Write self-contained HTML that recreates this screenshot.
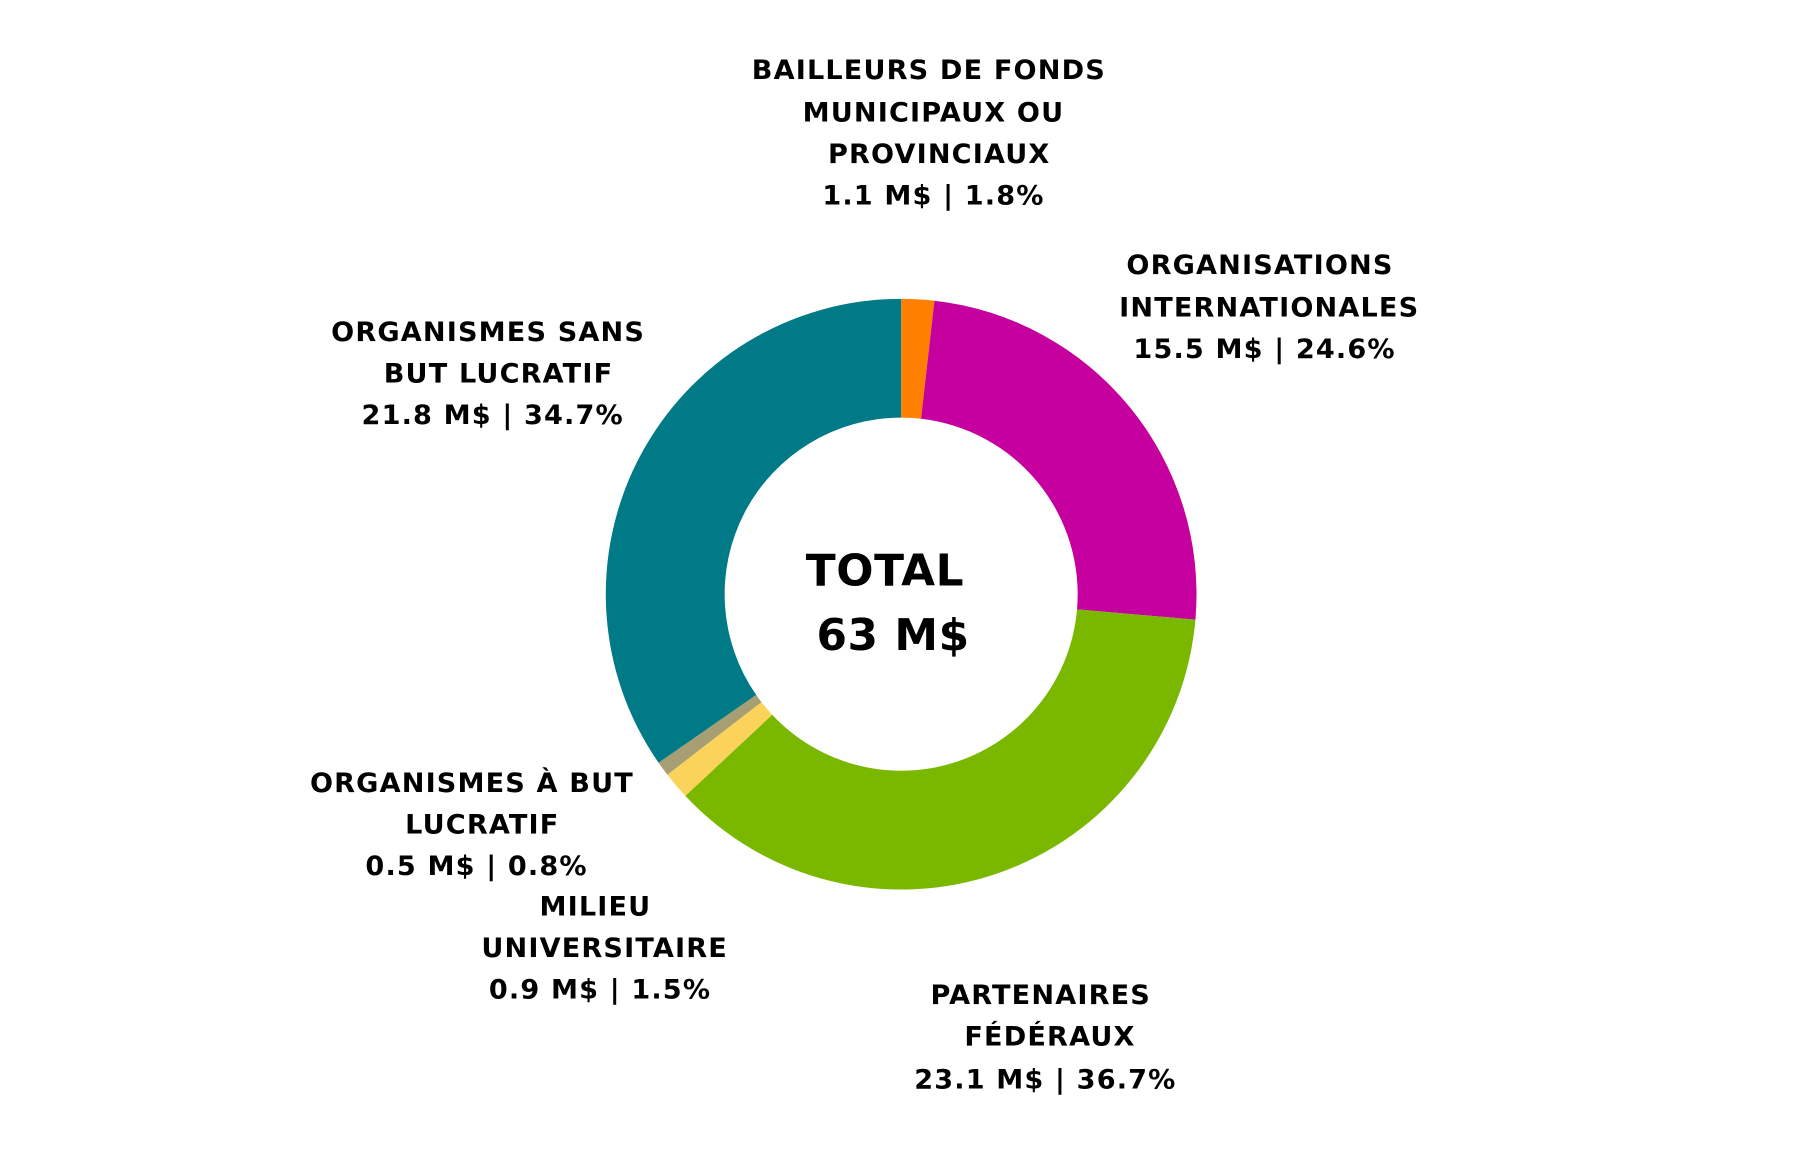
<!DOCTYPE html>
<html><head><meta charset="utf-8"><style>
html,body{margin:0;padding:0;background:#fff;}
svg{display:block;}
text{font-family:"DejaVu Sans","Liberation Sans",sans-serif;font-weight:bold;fill:#000;text-anchor:middle;dominant-baseline:central;}
.l{font-size:23.5px;letter-spacing:1px;}
.t{font-size:38px;letter-spacing:0.5px;}
</style></head><body>
<svg id="s" width="1800" height="1153" viewBox="0 0 1560 999.33" xmlns="http://www.w3.org/2000/svg">
<g id="pie"></g>
<g transform="translate(-3,-1)">
<text class="l" x="808" y="62">BAILLEURS DE FONDS</text>
<text class="l" x="812" y="99">MUNICIPAUX OU</text>
<text class="l" x="817" y="135">PROVINCIAUX</text>
<text class="l" x="812" y="171">1.1 M$ | 1.8%</text>
<text class="l" x="1095" y="231">ORGANISATIONS</text>
<text class="l" x="1103" y="268">INTERNATIONALES</text>
<text class="l" x="1099" y="304">15.5 M$ | 24.6%</text>
<text class="l" x="426" y="289">ORGANISMES SANS</text>
<text class="l" x="435" y="325">BUT LUCRATIF</text>
<text class="l" x="430" y="361">21.8 M$ | 34.7%</text>
<text class="l" x="412" y="680">ORGANISMES À BUT</text>
<text class="l" x="421" y="716">LUCRATIF</text>
<text class="l" x="416" y="752">0.5 M$ | 0.8%</text>
<text class="l" x="519" y="787">MILIEU</text>
<text class="l" x="527" y="823">UNIVERSITAIRE</text>
<text class="l" x="523" y="859">0.9 M$ | 1.5%</text>
<text class="l" x="905" y="864">PARTENAIRES</text>
<text class="l" x="913" y="900">FÉDÉRAUX</text>
<text class="l" x="909" y="937">23.1 M$ | 36.7%</text>
<text class="t" x="770" y="496">TOTAL</text>
<text class="t" x="777" y="552">63 M$</text>
</g>
</svg>
<script>
var cx=781,cy=515,R=256,r=153;
var d=[[1.8,"#ff7f00"],[24.6,"#c5009f"],[36.7,"#7ab800"],[1.5,"#fbd35a"],[0.8,"#a89e74"],[34.7,"#007a87"]];
var tot=0;d.forEach(function(e){tot+=e[0];});
var a=0,g=document.getElementById("pie"),h="";
function p(rad,ang){var t=ang*2*Math.PI;return (cx+rad*Math.sin(t)).toFixed(2)+","+(cy-rad*Math.cos(t)).toFixed(2);}
d.forEach(function(e){var a0=a/tot,a1=(a+e[0])/tot;a+=e[0];var lg=(a1-a0)>0.5?1:0;
h+='<path fill="'+e[1]+'" d="M'+p(R,a0)+' A'+R+','+R+' 0 '+lg+' 1 '+p(R,a1)+' L'+p(r,a1)+' A'+r+','+r+' 0 '+lg+' 0 '+p(r,a0)+' Z"/>';});
g.innerHTML=h;
</script>
</body></html>
